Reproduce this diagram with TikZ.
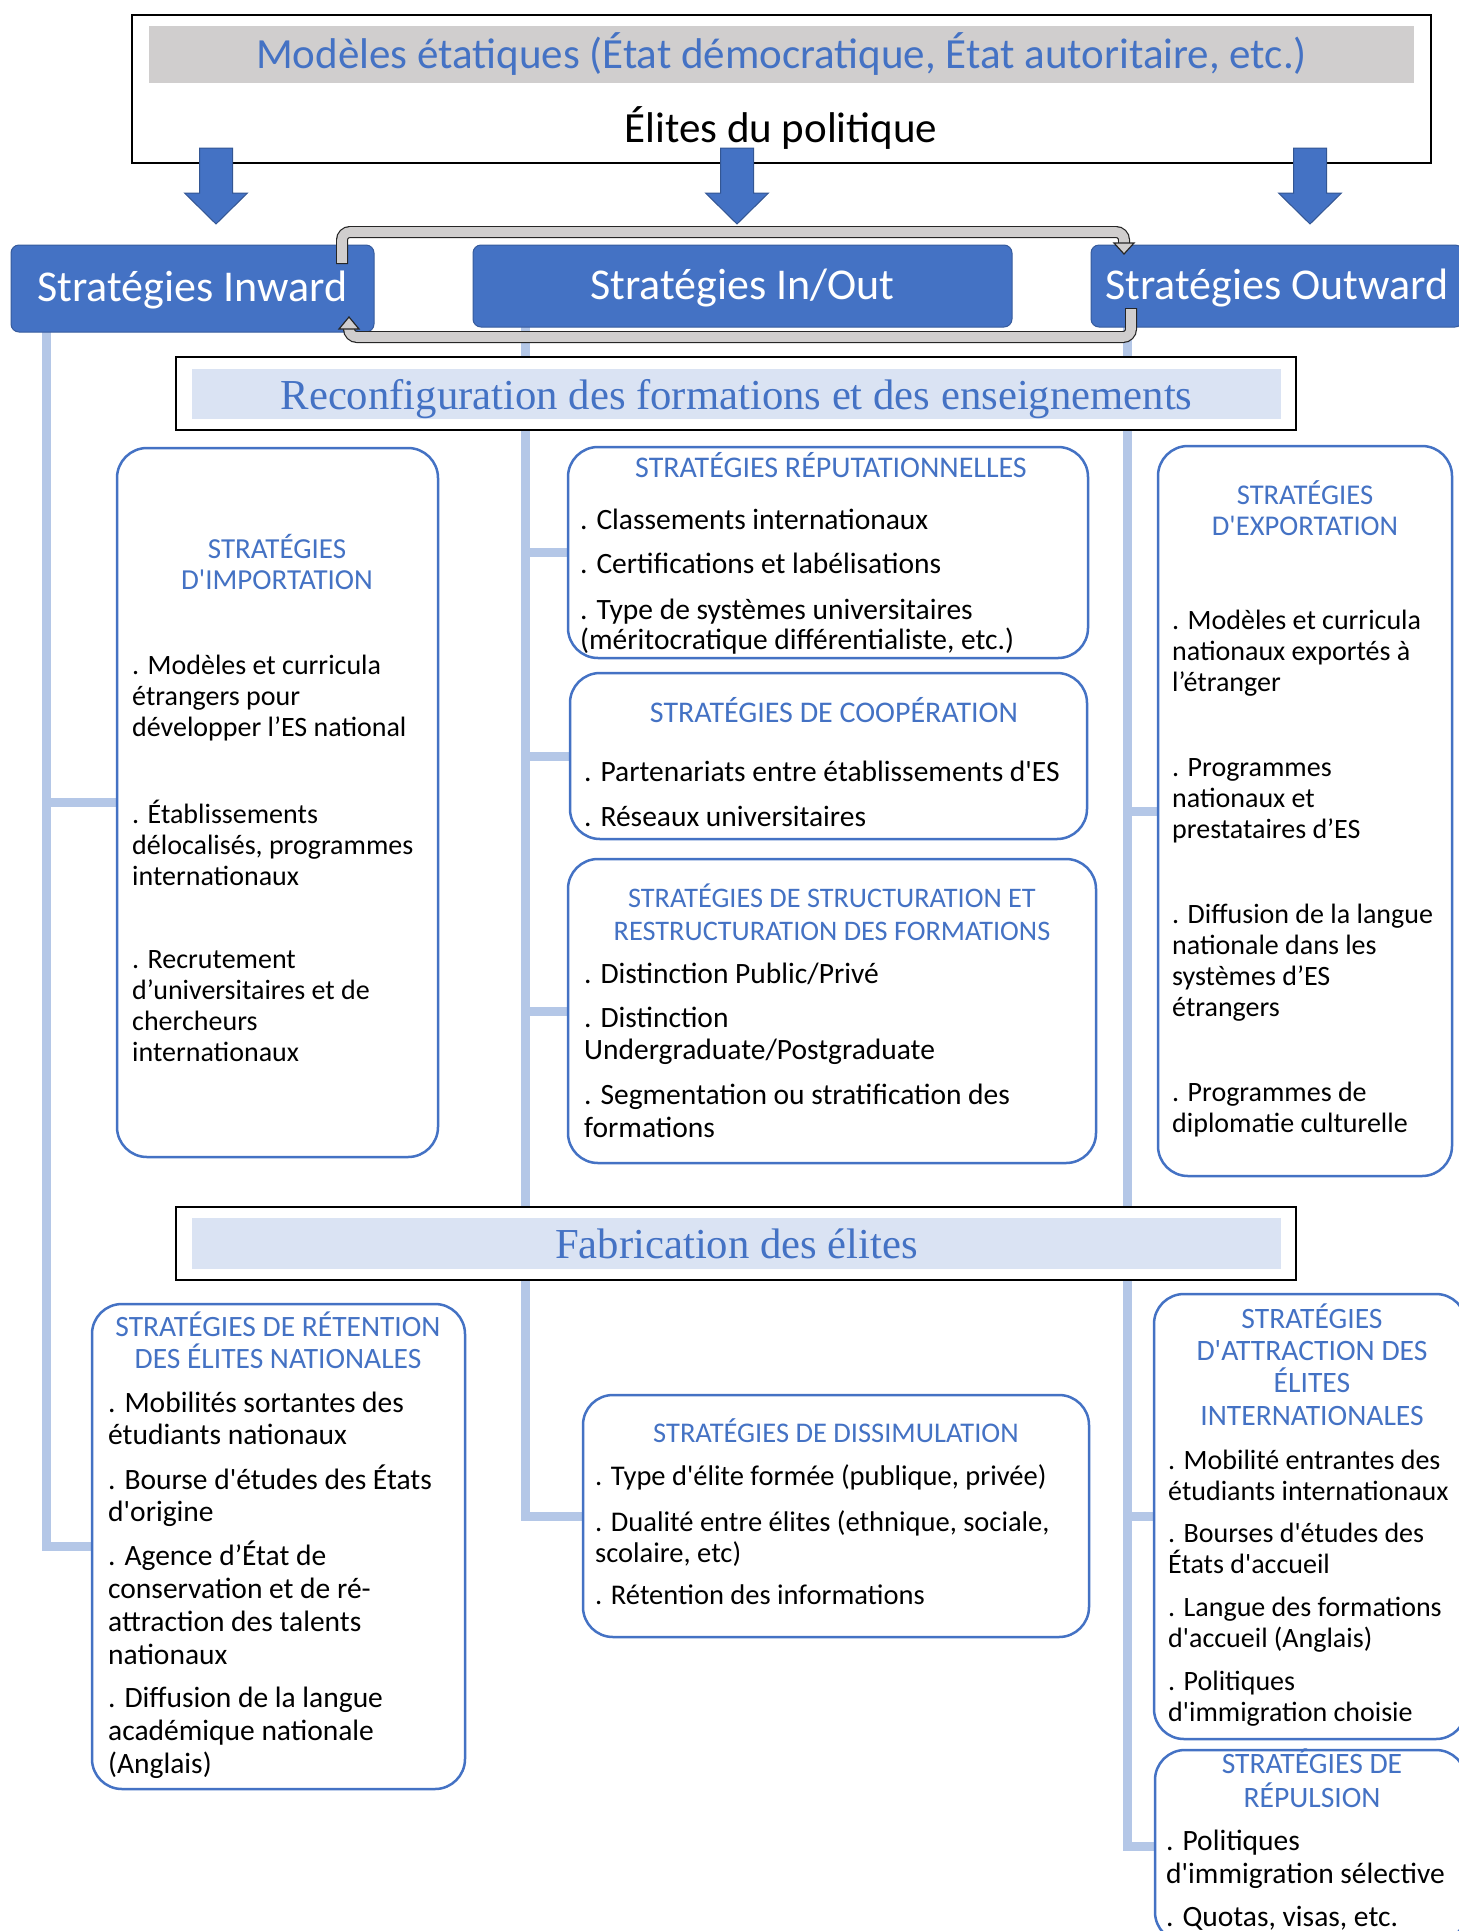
\documentclass[tikz,border=0pt]{standalone}
\usepackage{fontspec}
\setmainfont[Ligatures=TeXOff]{Carlito}
\newfontfamily\tms{Liberation Serif}
\usetikzlibrary{backgrounds}

\definecolor{blueS}{HTML}{4472C4}
\definecolor{blueL}{HTML}{B4C7E7}
\definecolor{blueP}{HTML}{DAE3F3}
\definecolor{grayB}{HTML}{D0CECE}

\begin{document}
\begin{tikzpicture}[x=1pt, y=-1pt,
  every node/.style = {inner sep=0},
  stratbox/.style = {draw=blueS, line width=2.5pt, fill=white, rounded corners=30pt},
  bluebox/.style = {fill=blueS, draw=blueS!80!black, line width=1pt, rounded corners=8pt,
                    text=white, text depth=4pt, font=\fontsize{44}{50}\selectfont},
  hdrbox/.style = {draw=black, line width=2pt, fill=white},
  band/.style = {fill=blueP, text=blueS, text depth=0pt, font=\tms\fontsize{42.7}{50}\selectfont},
  stitle/.style 2 args = {text=blueS, align=center, anchor=base, font=\fontsize{#1}{#2}\selectfont},
  item/.style 2 args = {align=left, anchor=base west, font=\fontsize{#1}{#2}\selectfont},
  trunk/.style = {draw=blueL, line width=9pt},
  loopout/.style = {draw=black!85, line width=12pt, rounded corners=8pt},
  loopin/.style = {draw=grayB, line width=9.6pt, rounded corners=8pt},
  loophead/.style = {fill=grayB, draw=black!85, line width=1.2pt},
  blockarrow/.style = {fill=blueS, draw=blueS!75!black, line width=1pt},
  ]
  \useasboundingbox (0,0) rectangle (1459,1931);
  \clip (0,0) rectangle (1459,1931);

  \node[draw, line width=2.5pt, minimum width=1299, minimum height=148] (etat) at (781.5,89) {};
  \node[fill=grayB, minimum width=1265, minimum height=57, text=blueS,
        font=\fontsize{43}{50}\selectfont] (modeles) at (781.5,54.5)
        {Modèles étatiques (État démocratique, État autoritaire, etc.)};
  \node[font=\fontsize{43}{50}\selectfont] (elites) at (781,128) {Élites du politique};

  \foreach \x in {216,737,1310}
    \filldraw[blockarrow] (\x-16.5,148) -- (\x+16.5,148) -- (\x+16.5,193) -- (\x+31.5,193)
      -- (\x,224) -- (\x-31.5,193) -- (\x-16.5,193) -- cycle;

  \node[bluebox, minimum width=363, minimum height=87] (inw) at (192.5,288.5) {Stratégies Inward};
  \node[bluebox, minimum width=539, minimum height=82] (inout) at (742.5,286) {Stratégies In/Out};
  \node[bluebox, minimum width=372, minimum height=82] (outw) at (1277,286) {Stratégies Outward};

  \coordinate (ua) at (342,264);
  \coordinate (ub) at (1124,232);
  \coordinate (uc) at (1124,244);
  \coordinate (la) at (1131,308);
  \coordinate (lb) at (349,337);
  \coordinate (lc) at (349,328);
  \draw[loopout] (ua) |- (ub) -- (uc);
  \draw[loopin, shorten <=1.2pt] (ua) |- (ub) -- (uc);
  \filldraw[loophead] (uc) ++(-10,-1) -- ++(20,0) -- ++(-10,11) -- cycle;
  \draw[loopout] (la) |- (lb) -- (lc);
  \draw[loopin, shorten <=1.2pt] (la) |- (lb) -- (lc);
  \filldraw[loophead] (lc) ++(-10,1) -- ++(20,0) -- ++(-10,-12) -- cycle;

  \node[hdrbox, minimum width=1120, minimum height=73] (reco) at (736,393.5) {};
  \node[band, minimum width=1089, minimum height=50] (recoT) at (736.5,394)
        {Reconfiguration des formations et des enseignements};
  \node[hdrbox, minimum width=1120, minimum height=73] (fab) at (736,1243.5) {};
  \node[band, minimum width=1089, minimum height=51] (fabT) at (736.5,1243.5) {Fabrication des élites};

  \node[stratbox, minimum width=321, minimum height=709] (imp) at (277.5,802.5) {};
  \node[stitle={29}{31}] (impT) at (277,589) {STRATÉGIES\\D'IMPORTATION};
  \node[item={28}{31}] (imp1) at (132,736) {. Modèles et curricula\\étrangers pour\\développer l’ES national};
  \node[item={28}{31}] (imp2) at (132,885) {. Établissements\\délocalisés, programmes\\internationaux};
  \node[item={28}{31}] (imp3) at (132,1061) {. Recrutement\\d’universitaires et de\\chercheurs\\internationaux};

  \node[stratbox, minimum width=520, minimum height=211] (rep) at (828,552.5) {};
  \node[stitle={30}{31}] (repT) at (831,477) {STRATÉGIES RÉPUTATIONNELLES};
  \node[item={29.5}{31}] (rep1) at (580,529) {. Classements internationaux};
  \node[item={29.5}{31}] (rep2) at (580,573) {. Certifications et labélisations};
  \node[item={29.5}{30}] (rep3) at (580,649)
        {. Type de systèmes universitaires\\(méritocratique différentialiste, etc.)};

  \node[stratbox, minimum width=517, minimum height=166] (coop) at (828.5,756) {};
  \node[stitle={30}{31}] (coopT) at (834,722) {STRATÉGIES DE COOPÉRATION};
  \node[item={29.5}{31}] (coop1) at (584,781) {. Partenariats entre établissements d'ES};
  \node[item={29.5}{31}] (coop2) at (584,826) {. Réseaux universitaires};

  \node[stratbox, minimum width=528, minimum height=304] (struc) at (832,1011) {};
  \node[stitle={28.3}{33}] (strucT) at (832,940)
        {STRATÉGIES DE STRUCTURATION ET\\RESTRUCTURATION DES FORMATIONS};
  \node[item={29.5}{32}] (struc1) at (584,983) {. Distinction Public/Privé};
  \node[item={29.5}{32}] (struc2) at (584,1059) {. Distinction\\Undergraduate/Postgraduate};
  \node[item={29.5}{33}] (struc3) at (584,1137) {. Segmentation ou stratification des\\formations};

  \node[stratbox, minimum width=294, minimum height=730] (exp) at (1305,811) {};
  \node[stitle={28.6}{31}] (expT) at (1305,535) {STRATÉGIES\\D'EXPORTATION};
  \node[item={28}{31}] (exp1) at (1172,691) {. Modèles et curricula\\nationaux exportés à\\l’étranger};
  \node[item={28}{31}] (exp2) at (1172,838) {. Programmes\\nationaux et\\prestataires d’ES};
  \node[item={28}{31}] (exp3) at (1172,1016) {. Diffusion de la langue\\nationale dans les\\systèmes d’ES\\étrangers};
  \node[item={28}{31}] (exp4) at (1172,1132) {. Programmes de\\diplomatie culturelle};

  \node[stratbox, minimum width=373, minimum height=485] (ret) at (278.5,1546.5) {};
  \node[stitle={29.5}{32}] (retT) at (278,1368) {STRATÉGIES DE RÉTENTION\\DES ÉLITES NATIONALES};
  \node[item={29.5}{32}] (ret1) at (108,1444) {. Mobilités sortantes des\\étudiants nationaux};
  \node[item={29.5}{32}] (ret2) at (108,1521) {. Bourse d'études des États\\d'origine};
  \node[item={29.5}{33}] (ret3) at (108,1664)
        {. Agence d’État de\\conservation et de ré-\\attraction des talents\\nationaux};
  \node[item={29.5}{33}] (ret4) at (108,1773)
        {. Diffusion de la langue\\académique nationale\\(Anglais)};

  \node[stratbox, minimum width=506, minimum height=242] (dis) at (836,1516) {};
  \node[stitle={28.5}{31}] (disT) at (836,1442) {STRATÉGIES DE DISSIMULATION};
  \node[item={28.5}{31}] (dis1) at (595,1485) {. Type d'élite formée (publique, privée)};
  \node[item={28.5}{31}] (dis2) at (595,1562) {. Dualité entre élites (ethnique, sociale,\\scolaire, etc)};
  \node[item={28.5}{31}] (dis3) at (595,1604) {. Rétention des informations};

  \node[stratbox, minimum width=312, minimum height=445] (attr) at (1310,1516.5) {};
  \node[stitle={29.6}{32.3}] (attrT) at (1312,1425)
        {STRATÉGIES\\D'ATTRACTION DES\\ÉLITES\\INTERNATIONALES};
  \node[item={28}{31}] (attr1) at (1168,1500) {. Mobilité entrantes des\\étudiants internationaux};
  \node[item={28}{31}] (attr2) at (1168,1573) {. Bourses d'études des\\États d'accueil};
  \node[item={28}{31}] (attr3) at (1168,1647) {. Langue des formations\\d'accueil (Anglais)};
  \node[item={28}{31}] (attr4) at (1168,1721) {. Politiques\\d'immigration choisie};

  \node[stratbox, minimum width=311, minimum height=192] (repu) at (1310.5,1846) {};
  \node[stitle={29.6}{34}] (repuT) at (1312,1807) {STRATÉGIES DE\\RÉPULSION};
  \node[item={29.5}{33}] (repu1) at (1166,1883) {. Politiques\\d'immigration sélective};
  \node[item={29.5}{31}] (repu2) at (1166,1926) {. Quotas, visas, etc.};

  \begin{scope}[on background layer]
    \coordinate (tl) at (46,330);
    \coordinate (tm) at (525,326);
    \coordinate (tr) at (1127,326);
    \draw[trunk] (tl) |- (imp.west);
    \draw[trunk] (tl) |- (ret.west);
    \draw[trunk] (tm) |- (rep.west);
    \draw[trunk] (tm) |- (coop.west);
    \draw[trunk] (tm) |- (struc.west);
    \draw[trunk] (tm) |- (dis.west);
    \draw[trunk] (tr) |- (exp.west);
    \draw[trunk] (tr) |- (attr.west);
    \draw[trunk] (tr) |- (repu.west);
  \end{scope}
\end{tikzpicture}
\end{document}
